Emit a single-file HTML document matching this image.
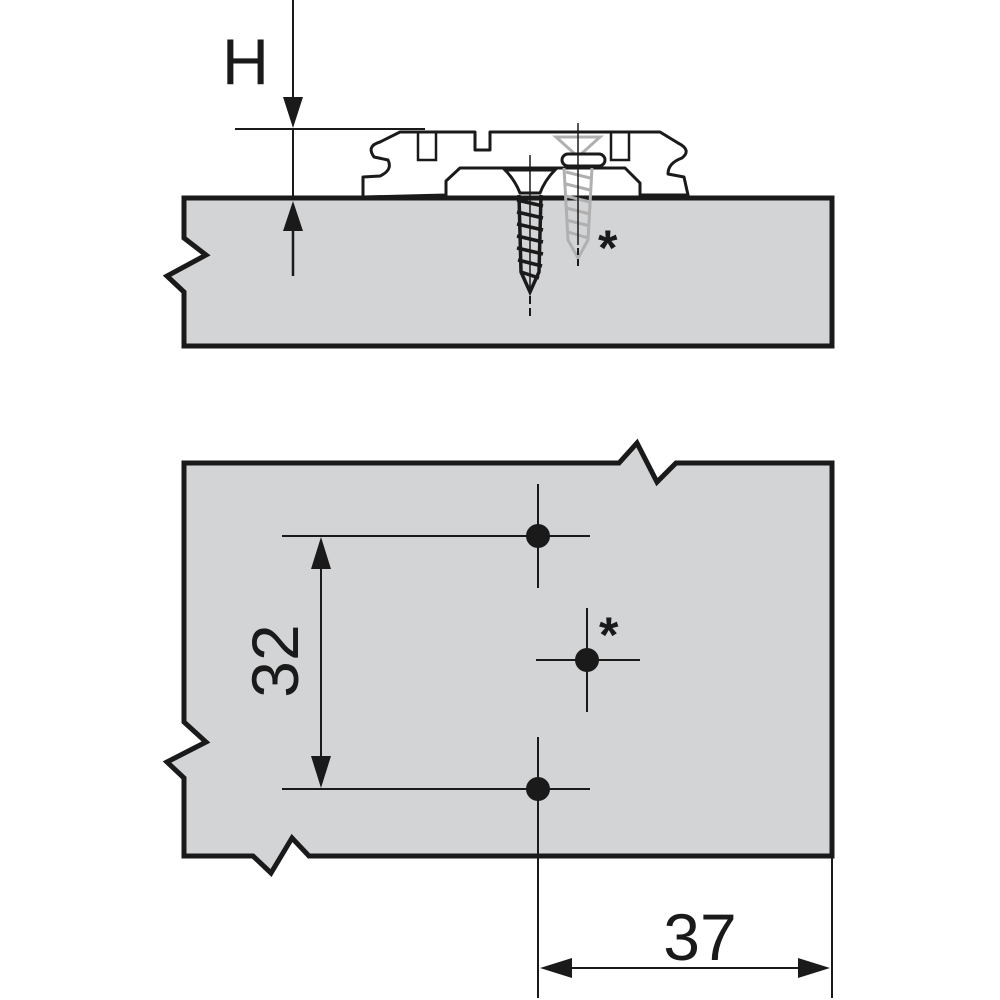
<!DOCTYPE html>
<html><head><meta charset="utf-8"><style>html,body{margin:0;padding:0;background:#fff}svg{display:block}</style></head>
<body>
<svg width="1000" height="1000" viewBox="0 0 1000 1000" xmlns="http://www.w3.org/2000/svg" font-family="Liberation Sans, sans-serif">
<!-- top panel -->
<path d="M184,198 L832,198 L832,346 L184,346 L184,292 L167,276 L206,255 L184,238 Z" fill="#d3d4d6" stroke="#1a1a1a" stroke-width="5" stroke-linejoin="miter"/>
<!-- plate -->
<path d="M363,197 L363,177 L380,176 Q393,170 388,160 L374,157 Q366,146 380,142 L400,132 L475,132 L475,150 L490,150 L490,132 L660,132 L678,143 Q692,150 682,158 Q668,163 668,174 L684,177 L688,195 L640,195 L640,183 L625,168 L460,168 L446,181 L446,195 Z" fill="#fff" stroke="#1a1a1a" stroke-width="3" stroke-linejoin="round"/>
<rect x="418" y="132" width="18" height="28" fill="none" stroke="#1a1a1a" stroke-width="2.5"/>
<rect x="611" y="132" width="18" height="28" fill="none" stroke="#1a1a1a" stroke-width="2.5"/>
<line x1="235" y1="129" x2="425" y2="129" stroke="#1a1a1a" stroke-width="2"/>
<!-- gray screw -->
<g stroke="#b0b0b0" stroke-width="3" fill="none">
<path d="M556,137 L600,137 L580,155 L576,155 Z"/>
<path d="M566,172 L590,178 M566,184 L590,190 M566,196 L590,202 M566,208 L590,214 M566,220 L590,226 M568,232 L588,238 M564,168 L568,240 L578,258 L588,240 L592,168"/>
</g>
<rect x="562" y="154" width="43" height="12" rx="6" fill="#fff" stroke="#1a1a1a" stroke-width="3"/>
<line x1="578" y1="123" x2="578" y2="245" stroke="#1a1a1a" stroke-width="1.5"/>
<line x1="578" y1="248" x2="578" y2="266" stroke="#1a1a1a" stroke-width="2" stroke-dasharray="7,4"/>
<!-- black screw -->
<path d="M505,170 L555,170 Q545,180 540,193 L520,193 Q515,180 505,170 Z" fill="#fff" stroke="#1a1a1a" stroke-width="3"/>
<g stroke="#1a1a1a" stroke-width="3.5" fill="none">
<path d="M519,195 L521,272 L530,292 L539,272 L541,195"/>
<path d="M517,200 L543,206 M517,212 L543,218 M517,224 L543,230 M517,236 L543,242 M517,248 L543,254 M518,260 L542,266 M521,272 L539,278"/>
</g>
<line x1="530" y1="155" x2="530" y2="292" stroke="#1a1a1a" stroke-width="1.5"/>
<line x1="530" y1="296" x2="530" y2="316" stroke="#1a1a1a" stroke-width="2" stroke-dasharray="8,4"/>
<text x="598" y="265" font-size="50" font-weight="bold" fill="#1a1a1a">*</text>
<!-- H dim -->
<line x1="293" y1="0" x2="293" y2="110" stroke="#1a1a1a" stroke-width="2"/>
<path d="M283,97 L303,97 L293,128 Z" fill="#1a1a1a"/>
<line x1="293" y1="128" x2="293" y2="200" stroke="#1a1a1a" stroke-width="2"/>
<path d="M283,231 L303,231 L293,201 Z" fill="#1a1a1a"/>
<line x1="293" y1="228" x2="293" y2="276" stroke="#1a1a1a" stroke-width="2.5"/>
<text x="222" y="84" font-size="65" fill="#1a1a1a">H</text>
<!-- bottom panel -->
<path d="M184,463 L619,463 L637,443 L657,482 L676,463 L832,463 L832,856 L309,856 L292,838 L271,873 L253,856 L184,856 L184,778 L167,762 L206,742 L184,722 Z" fill="#d3d4d6" stroke="#1a1a1a" stroke-width="5"/>
<g stroke="#1a1a1a" stroke-width="2">
<line x1="538" y1="484" x2="538" y2="588"/>
<line x1="282" y1="536" x2="590" y2="536"/>
<line x1="587" y1="608" x2="587" y2="712"/>
<line x1="536" y1="660" x2="640" y2="660"/>
<line x1="538" y1="737" x2="538" y2="998"/>
<line x1="282" y1="789" x2="590" y2="789"/>
<line x1="321" y1="560" x2="321" y2="765"/>
<line x1="832" y1="856" x2="832" y2="998"/>
<line x1="560" y1="968" x2="810" y2="968"/>
</g>
<circle cx="538" cy="536" r="12" fill="#1a1a1a"/>
<circle cx="587" cy="660" r="12" fill="#1a1a1a"/>
<circle cx="538" cy="789" r="12" fill="#1a1a1a"/>
<text x="599" y="652" font-size="50" font-weight="bold" fill="#1a1a1a">*</text>
<path d="M311,569 L331,569 L321,537 Z M311,756 L331,756 L321,788 Z" fill="#1a1a1a"/>
<path d="M540,968 L572,958 L572,978 Z M830,968 L798,958 L798,978 Z" fill="#1a1a1a"/>
<text x="700" y="960" font-size="66" fill="#1a1a1a" text-anchor="middle">37</text>
<text transform="translate(298,661) rotate(-90)" font-size="66" fill="#1a1a1a" text-anchor="middle">32</text>
</svg>
</body></html>
